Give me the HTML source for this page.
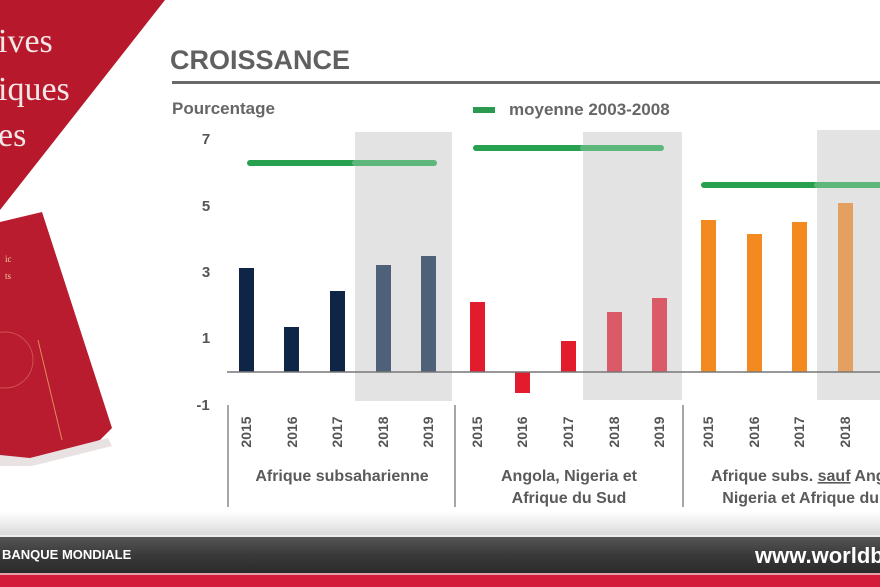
<!DOCTYPE html>
<html><head><meta charset="utf-8"><style>
html,body{margin:0;padding:0;background:#fff;width:880px;height:587px;overflow:hidden}
svg{display:block}
text{font-family:"Liberation Sans",Arial,sans-serif}
</style></head><body>
<svg width="880" height="587" viewBox="0 0 880 587">
<defs>
<linearGradient id="fade" x1="0" y1="0" x2="0" y2="1"><stop offset="0" stop-color="#fff"/><stop offset="1" stop-color="#d8d8d8"/></linearGradient>
<linearGradient id="dark" x1="0" y1="0" x2="0" y2="1"><stop offset="0" stop-color="#555"/><stop offset="0.5" stop-color="#3a3a3a"/><stop offset="1" stop-color="#2a2a2a"/></linearGradient>
</defs>
<rect x="0" y="0" width="880" height="587" fill="#fff"/>
<polygon points="0,0 165,0 0,210" fill="#b8182c"/>
<g fill="#f3e6e6" font-size="34">
<text x="-2" y="52" style="font-family:'Liberation Serif',serif">ives</text>
<text x="-2" y="100" style="font-family:'Liberation Serif',serif">iques</text>
<text x="-2" y="146" style="font-family:'Liberation Serif',serif">es</text>
</g>
<polygon points="0,222 42,212 112,428 100,440 28,462 0,462" fill="#b81c2e"/>
<polygon points="0,455 30,458 108,438 112,446 32,466 0,466" fill="#e8e2e2"/>
<text x="5" y="262" fill="#f0d0a0" font-size="9" style="font-family:'Liberation Serif',serif">ic</text>
<text x="5" y="279" fill="#f0d0a0" font-size="9" style="font-family:'Liberation Serif',serif">ts</text>
<line x1="38" y1="340" x2="62" y2="440" stroke="#e08a5a" stroke-width="1"/>
<circle cx="5" cy="360" r="28" fill="none" stroke="#d05050" stroke-width="1"/>
<text x="170" y="69" font-size="27" font-weight="bold" fill="#606060">CROISSANCE</text>
<rect x="172" y="81" width="708" height="3" fill="#6a6a6a"/>
<text x="172" y="114" font-size="17" font-weight="bold" fill="#666">Pourcentage</text>
<rect x="473" y="107" width="22" height="6" fill="#2a9a50"/>
<text x="509" y="115" font-size="17" font-weight="bold" fill="#666">moyenne 2003-2008</text>
<g font-size="15" font-weight="bold" fill="#555" text-anchor="middle">
<text x="206" y="144">7</text><text x="206" y="211">5</text><text x="206" y="277">3</text><text x="206" y="343">1</text><text x="203" y="410">-1</text>
</g>
<rect x="355" y="132" width="97" height="269" fill="#e3e3e3"/>
<rect x="583" y="132" width="99" height="268" fill="#e3e3e3"/>
<rect x="817" y="130" width="63" height="270" fill="#e3e3e3"/>
<g stroke-width="6" stroke-linecap="round">
<line x1="250" y1="163" x2="355" y2="163" stroke="#27a050"/><line x1="355" y1="163" x2="434" y2="163" stroke="#5db77a"/>
<line x1="476" y1="148" x2="583" y2="148" stroke="#27a050"/><line x1="583" y1="148" x2="661" y2="148" stroke="#5db77a"/>
<line x1="704" y1="185" x2="817" y2="185" stroke="#27a050"/><line x1="817" y1="185" x2="885" y2="185" stroke="#5db77a"/>
</g>
<g fill="#0f2545">
<rect x="239" y="268" width="15" height="104"/><rect x="284" y="327" width="15" height="45"/><rect x="330" y="291" width="15" height="81"/>
</g>
<g fill="#4f6079"><rect x="376" y="265" width="15" height="107"/><rect x="421" y="256" width="15" height="116"/></g>
<g fill="#e31c2d">
<rect x="470" y="302" width="15" height="70"/><rect x="515" y="372" width="15" height="21"/><rect x="561" y="341" width="15" height="31"/>
</g>
<g fill="#db5a68"><rect x="607" y="312" width="15" height="60"/><rect x="652" y="298" width="15" height="74"/></g>
<g fill="#f28a20">
<rect x="701" y="220" width="15" height="152"/><rect x="747" y="234" width="15" height="138"/><rect x="792" y="222" width="15" height="150"/>
</g>
<rect x="838" y="203" width="15" height="169" fill="#e3a060"/>
<line x1="227" y1="372" x2="880" y2="372" stroke="#777" stroke-width="1.5"/>
<g stroke="#888" stroke-width="1.5"><line x1="228" y1="405" x2="228" y2="507"/><line x1="455" y1="405" x2="455" y2="507"/><line x1="683" y1="405" x2="683" y2="507"/></g>
<g font-size="14" font-weight="bold" fill="#555" text-anchor="middle">
<text transform="translate(251,432) rotate(-90)">2015</text>
<text transform="translate(297,432) rotate(-90)">2016</text>
<text transform="translate(342,432) rotate(-90)">2017</text>
<text transform="translate(388,432) rotate(-90)">2018</text>
<text transform="translate(433,432) rotate(-90)">2019</text>
<text transform="translate(482,432) rotate(-90)">2015</text>
<text transform="translate(527,432) rotate(-90)">2016</text>
<text transform="translate(573,432) rotate(-90)">2017</text>
<text transform="translate(619,432) rotate(-90)">2018</text>
<text transform="translate(664,432) rotate(-90)">2019</text>
<text transform="translate(713,432) rotate(-90)">2015</text>
<text transform="translate(759,432) rotate(-90)">2016</text>
<text transform="translate(804,432) rotate(-90)">2017</text>
<text transform="translate(850,432) rotate(-90)">2018</text>
<text transform="translate(895,432) rotate(-90)">2019</text>
</g>
<g font-size="16" font-weight="bold" fill="#5a5a5a" text-anchor="middle">
<text x="342" y="481">Afrique subsaharienne</text>
<text x="569" y="481">Angola, Nigeria et</text>
<text x="569" y="503">Afrique du Sud</text>
<text x="812" y="481">Afrique subs. <tspan text-decoration="underline">sauf</tspan> Angola,</text>
<text x="818" y="503">Nigeria et Afrique du Sud</text>
</g>
<rect x="0" y="512" width="880" height="24" fill="url(#fade)"/>
<rect x="0" y="535" width="880" height="2" fill="#eee"/>
<rect x="0" y="537" width="880" height="36" fill="url(#dark)"/>
<rect x="0" y="573" width="880" height="2" fill="#e8a0a8"/>
<rect x="0" y="575" width="880" height="12" fill="#d21c3a"/>
<text x="2" y="559" font-size="13" font-weight="bold" fill="#fff">BANQUE MONDIALE</text>
<text x="755" y="563" font-size="22" font-weight="bold" fill="#fff">www.worldbank.org</text>
</svg>
</body></html>
